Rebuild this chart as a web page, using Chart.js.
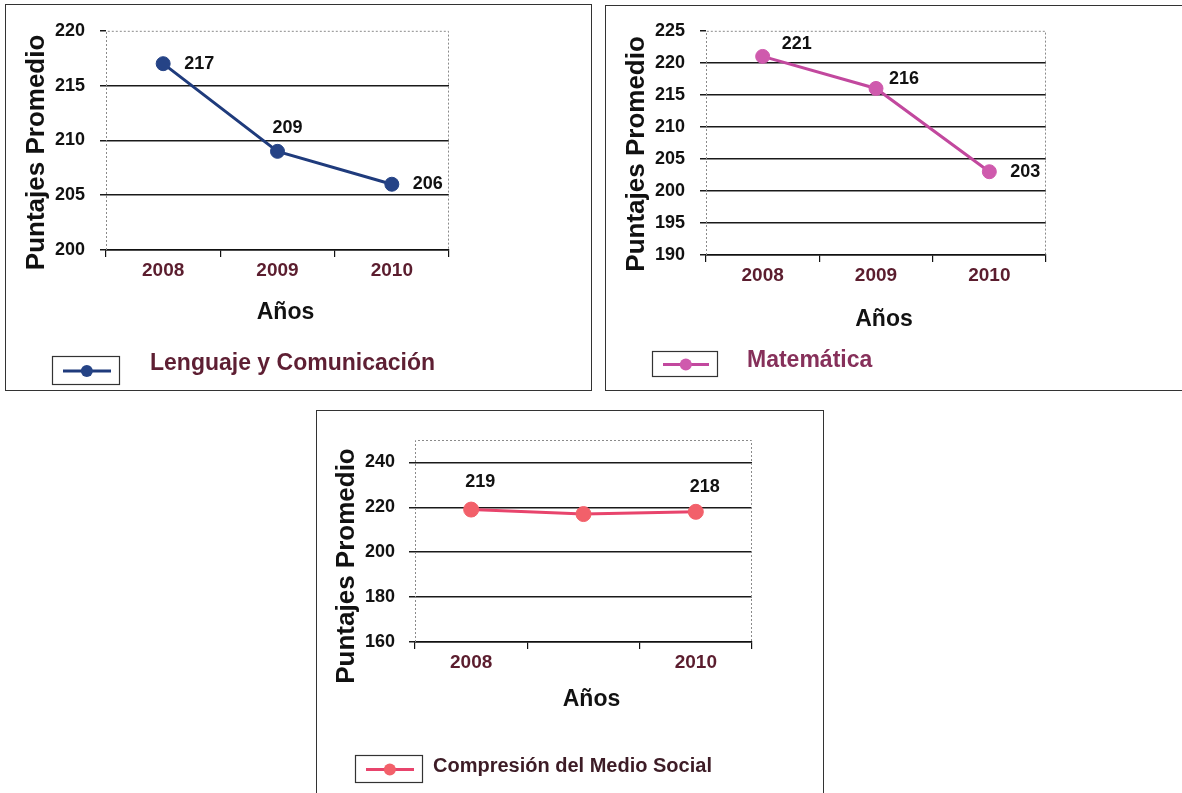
<!DOCTYPE html>
<html>
<head>
<meta charset="utf-8">
<script src="https://cdn.jsdelivr.net/npm/chart.js@4.4.0/dist/chart.umd.min.js"></script>
<style>
body{margin:0;background:#fff;width:1182px;height:793px;overflow:hidden;position:relative}
.box{position:absolute;border:1.5px solid #333;box-sizing:border-box;background:#fff}
canvas{position:absolute}
</style>
</head>
<body>
<div class="box" style="left:5px;top:4px;width:587px;height:387px"></div>
<div class="box" style="left:605px;top:5px;width:580px;height:386px"></div>
<div class="box" style="left:316px;top:410px;width:508px;height:400px"></div>
<canvas id="c1" width="582" height="385" style="left:5px;top:5px"></canvas>
<canvas id="c2" width="577" height="385" style="left:605px;top:5px"></canvas>
<canvas id="c3" width="507" height="383" style="left:316px;top:410px"></canvas>
<script>
// data
const years = ['2008', '2009', '2010'];
const yearsSocial = ['2008', '', '2010'];
const lenguaje = [217, 209, 206];
const matematica = [221, 216, 203];
const social = [219, 217, 218];
const yTicksLen = [200, 205, 210, 215, 220];
const yTicksMat = [190, 195, 200, 205, 210, 215, 220, 225];
const yTicksSoc = [160, 180, 200, 220, 240];

const FONT = '"Liberation Sans", Arial, sans-serif';
Chart.defaults.font.family = FONT;

// draws plot frame, axis titles, the boxed legend and the value labels
const decor = {
  id: 'decor',
  beforeDatasetsDraw(chart, args, o) {
    const a = chart.chartArea, ctx = chart.ctx;
    ctx.save();
    ctx.strokeStyle = '#8a8a8a';
    ctx.lineWidth = 1;
    ctx.setLineDash([2, 2]);
    ctx.beginPath();
    ctx.moveTo(a.left + 0.5, a.bottom);
    ctx.lineTo(a.left + 0.5, a.top + 0.5);
    ctx.lineTo(a.right - 0.5, a.top + 0.5);
    ctx.lineTo(a.right - 0.5, a.bottom);
    ctx.stroke();
    ctx.restore();
  },
  afterDraw(chart, args, o) {
    const a = chart.chartArea, ctx = chart.ctx;
    const ds = chart.data.datasets[0];
    ctx.save();
    // y title
    ctx.fillStyle = '#111';
    ctx.font = 'bold 26px ' + FONT;
    ctx.textAlign = 'center';
    ctx.textBaseline = 'middle';
    ctx.translate(a.left - o.yTitleX, (a.top + a.bottom) / 2 + o.yTitleShift);
    ctx.rotate(-Math.PI / 2);
    ctx.fillText('Puntajes Promedio', 0, 0);
    ctx.setTransform(1, 0, 0, 1, 0, 0);
    // x title
    ctx.font = 'bold 23px ' + FONT;
    ctx.fillText('Años', (a.left + a.right) / 2 + 8, a.bottom + o.xTitleGap);
    // value labels
    ctx.font = 'bold 18px ' + FONT;
    const meta = chart.getDatasetMeta(0);
    meta.data.forEach((pt, i) => {
      const lp = o.valueLabels[i];
      if (!lp) return;
      ctx.textAlign = lp.align;
      ctx.fillText(String(ds.data[i]), pt.x + lp.dx, pt.y + lp.dy);
    });
    // legend
    const L = o.legend;
    ctx.strokeStyle = '#333';
    ctx.lineWidth = 1.2;
    ctx.strokeRect(L.x + 0.5, L.y + 0.5, L.w, L.h);
    const ly = L.y + L.h / 2 + 1;
    ctx.strokeStyle = ds.borderColor;
    ctx.lineWidth = 3;
    ctx.beginPath();
    ctx.moveTo(L.x + 11, ly);
    ctx.lineTo(L.x + L.w - 8, ly);
    ctx.stroke();
    ctx.fillStyle = ds.pointBackgroundColor;
    ctx.beginPath();
    ctx.arc(L.x + L.w * 0.52, ly, 6, 0, Math.PI * 2);
    ctx.fill();
    ctx.fillStyle = o.nameColor;
    ctx.font = 'bold ' + o.nameSize + 'px ' + FONT;
    ctx.textAlign = 'left';
    ctx.fillText(ds.label, L.tx, L.ty);
    ctx.restore();
  }
};

function makeChart(id, cfg) {
  const yMax = cfg.yMax;
  return new Chart(document.getElementById(id), {
    type: 'line',
    data: {
      labels: cfg.labels,
      datasets: [{
        label: cfg.name,
        data: cfg.values,
        borderColor: cfg.color,
        borderWidth: 3,
        pointRadius: cfg.pointRadius,
        pointBackgroundColor: cfg.pointColor,
        pointBorderColor: cfg.pointColor,
        pointBorderWidth: 1,
        tension: 0
      }]
    },
    options: {
      responsive: false,
      animation: false,
      layout: { padding: cfg.padding },
      plugins: {
        legend: { display: false },
        tooltip: { enabled: false },
        decor: cfg.decor
      },
      scales: {
        x: {
          type: 'category',
          offset: true,
          grid: { offset: true, drawOnChartArea: false, drawTicks: true, tickLength: 7, color: '#111', lineWidth: 1.2 },
          border: { display: true, color: '#111', width: 1.6 },
          ticks: { color: '#5b1d2e', font: { size: 19, weight: 'bold' }, padding: 2, maxRotation: 0, autoSkip: false },
          afterFit: s => { s.height = 60; }
        },
        y: {
          min: cfg.yMin,
          max: yMax,
          afterBuildTicks: s => { s.ticks = cfg.yTicks.map(v => ({ value: v })); },
          grid: {
            color: c => (c.tick && c.tick.value === yMax) ? 'rgba(0,0,0,0)' : '#1a1a1a',
            tickColor: '#1a1a1a',
            tickLength: 6,
            lineWidth: 1.5
          },
          border: { display: false },
          ticks: { color: '#111', font: { size: 18, weight: 'bold' }, padding: cfg.tickPad },
          afterFit: s => { s.width = cfg.yWidth; }
        }
      }
    },
    plugins: [decor]
  });
}

makeChart('c1', {
  labels: years, values: lenguaje, name: 'Lenguaje y Comunicación',
  yMin: 200, yMax: 220, yTicks: yTicksLen,
  color: '#1f3b7c', pointColor: '#254386', pointRadius: 7,
  padding: { left: 0, top: 23, right: 138, bottom: 80 },
  yWidth: 101, tickPad: 15,
  decor: {
    yTitleX: 69, yTitleShift: 12, xTitleGap: 63,
    nameColor: '#5e1f33', nameSize: 23,
    legend: { x: 47, y: 351, w: 67, h: 28, tx: 145, ty: 359 },
    valueLabels: [
      { dx: 21, dy: 0, align: 'left' },
      { dx: 10, dy: -23, align: 'center' },
      { dx: 21, dy: 0, align: 'left' }
    ]
  }
});

makeChart('c2', {
  labels: years, values: matematica, name: 'Matemática',
  yMin: 190, yMax: 225, yTicks: yTicksMat,
  color: '#c2489e', pointColor: '#cf5aad', pointRadius: 7,
  padding: { left: 0, top: 24, right: 136, bottom: 75 },
  yWidth: 101, tickPad: 15,
  decor: {
    yTitleX: 69, yTitleShift: 11, xTitleGap: 65,
    nameColor: '#86305a', nameSize: 23,
    legend: { x: 47, y: 346, w: 65, h: 25, tx: 142, ty: 356 },
    valueLabels: [
      { dx: 19, dy: -12, align: 'left' },
      { dx: 13, dy: -9, align: 'left' },
      { dx: 21, dy: 0, align: 'left' }
    ]
  }
});

makeChart('c3', {
  labels: yearsSocial, values: social, name: 'Compresión del Medio Social',
  yMin: 160, yMax: 250, yTicks: yTicksSoc,
  color: '#e8446c', pointColor: '#f2606a', pointRadius: 7.5,
  padding: { left: 0, top: 30, right: 71, bottom: 91 },
  yWidth: 99, tickPad: 14,
  decor: {
    yTitleX: 68, yTitleShift: 25, xTitleGap: 58,
    nameColor: '#3d1c26', nameSize: 20,
    legend: { x: 39, y: 345, w: 67, h: 27, tx: 117, ty: 356 },
    valueLabels: [
      { dx: 9, dy: -28, align: 'center' },
      null,
      { dx: 9, dy: -25, align: 'center' }
    ]
  }
});
</script>
</body>
</html>
